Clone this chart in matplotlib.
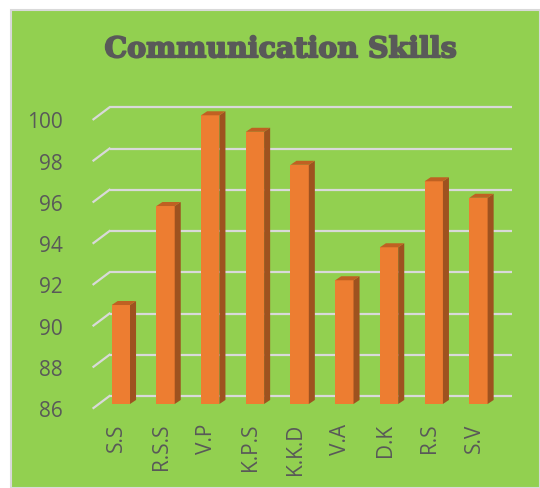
import numpy as np
import matplotlib
matplotlib.use("Agg")
import matplotlib.pyplot as plt
import matplotlib.patheffects as pe
from matplotlib.patches import Rectangle, Polygon
from matplotlib.transforms import ScaledTranslation

# data
names = ["S.S", "R.S.S", "V.P", "K.P.S", "K.K.D", "V.A", "D.K", "R.S", "S.V"]
scores = [90.8, 95.6, 100, 99.2, 97.6, 92, 93.6, 96.8, 96]
yticks = [86, 88, 90, 92, 94, 96, 98, 100]

#colours
green = "#92D050"
grid_col = "#D9D9D9"
front_col = "#ED7D31"
side_col = "#9E521F"
top_col = "#BF6122"
text_col = "#595959"

fig = plt.figure(figsize=(5.4, 4.88), dpi=100, facecolor="white")

# green chart area with thin grey border
fig.patches.append(Rectangle((11 / 540, 0), 1 - 11 / 540, 478 / 488, transform=fig.transFigure,
                             facecolor=green, edgecolor=grid_col, linewidth=1.5, zorder=-5))

# title, stroked a bit to look like a heavy slab serif
fig.text(0.52, 0.898, "Communication Skills", ha="center", va="center", fontsize=20.5,
         fontweight="bold", family="DejaVu Serif", color=text_col,
         path_effects=[pe.withStroke(linewidth=1.3, foreground=text_col)])

ax = fig.add_axes([98.5 / 540, 84 / 488, 402.3 / 540, 288.7 / 488])
ax.set_facecolor("none")
ax.set_xlim(-0.5, 8.5)
ax.set_ylim(86, 100)
for s in ax.spines.values():
    s.set_visible(False)

def px(dx, dy):
    return ScaledTranslation(dx / 100, dy / 100, fig.dpi_scale_trans)

x = np.arange(len(names))

# back wall gridlines (pushed back and up)
for t in yticks:
    ax.plot([-0.5, 8.5], [t, t], color=grid_col, lw=1.6, transform=ax.transData + px(11, 8),
            clip_on=False, zorder=1, solid_capstyle="butt")

# small floor diagonals on the left side
fig.canvas.draw()
for t in yticks:
    x0, y0 = ax.transData.transform((-0.5, t))
    fig.add_artist(plt.Line2D([x0 - 5, x0 + 11], [y0 - 4, y0 + 8], color=grid_col, lw=1.6,
                              transform=None, zorder=1))

# bars with fake depth
w = 0.41
ddx, ddy = 0.135, 0.195
ax.bar(x, np.array(scores) - 86, bottom=86, width=w, color=front_col, zorder=3, clip_on=False)
for xi, v in zip(x, scores):
    r = xi + w / 2
    l = xi - w / 2
    side = Polygon([(r, 86), (r + ddx, 86 + ddy), (r + ddx, v + ddy), (r, v)],
                   closed=True, facecolor=side_col, edgecolor="none", zorder=3, clip_on=False)
    top = Polygon([(l, v), (l + ddx, v + ddy), (r + ddx, v + ddy), (r, v)],
                  closed=True, facecolor=top_col, edgecolor="none", zorder=3, clip_on=False)
    ax.add_patch(side)
    ax.add_patch(top)

ax.set_yticks(yticks)
ax.set_yticklabels([str(t) for t in yticks], fontsize=15, family="Open Sans", color=text_col)
ax.set_xticks(x)
ax.set_xticklabels(names, rotation=90, fontsize=15, family="Open Sans", color=text_col)
ax.tick_params(axis="both", length=0)
ax.tick_params(axis="y", pad=26)
ax.tick_params(axis="x", pad=14)
for lab in ax.get_yticklabels():
    lab.set_transform(lab.get_transform() + px(0, -5))
for lab in ax.get_xticklabels():
    lab.set_transform(lab.get_transform() + px(-4, 0))

fig.savefig("out.png", dpi=100, facecolor="white")
